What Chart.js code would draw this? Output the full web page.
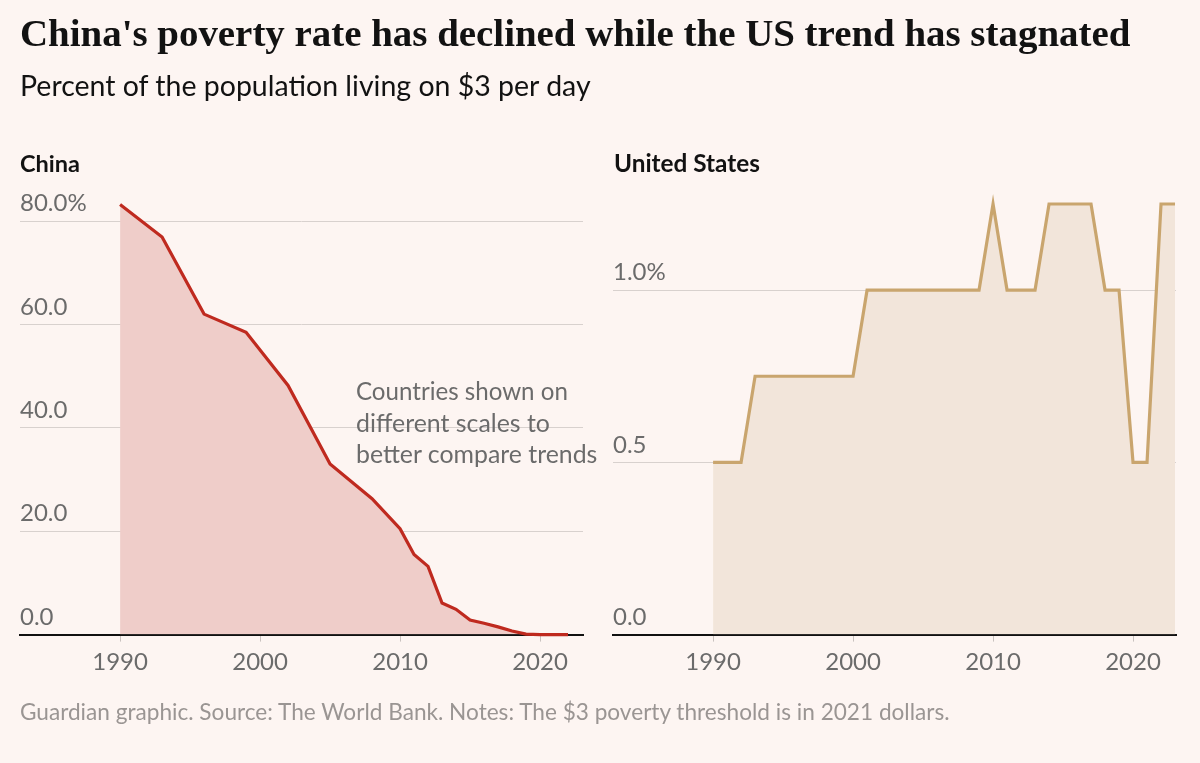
<!DOCTYPE html>
<html><head><meta charset="utf-8">
<script src="https://cdn.jsdelivr.net/npm/chart.js@4.4.1/dist/chart.umd.min.js"></script>
<style>
html,body{margin:0;padding:0;background:#fdf5f2;width:1200px;height:763px;overflow:hidden;}
body{position:relative;}
.t{position:absolute;white-space:nowrap;margin:0;}
canvas{position:absolute;top:0;}
</style></head>
<body>
<canvas id="cn" width="600" height="763" style="left:0;width:600px;height:763px"></canvas>
<canvas id="us" width="600" height="763" style="left:600px;width:600px;height:763px"></canvas>
<div class="t" id="title">China's poverty rate has declined while the US trend has stagnated</div>
<div class="t" id="sub">Percent of the population living on $3 per day</div>
<div class="t" id="lcn">China</div>
<div class="t" id="lus">United States</div>
<div class="t" id="a1">Countries shown on</div>
<div class="t" id="a2">different scales to</div>
<div class="t" id="a3">better compare trends</div>
<div class="t" id="foot">Guardian graphic. Source: The World Bank. Notes: The $3 poverty threshold is in 2021 dollars.</div>
<script>
// ---- data ----
const chinaYears = [1990,1993,1996,1999,2002,2005,2008,2010,2011,2012,2013,2014,2015,2016,2017,2018,2019,2020,2021,2022];
const chinaValues = [83.2,76.9,62.0,58.5,48.2,33.0,26.3,20.5,15.5,13.2,6.1,4.9,2.8,2.2,1.5,0.7,0.1,0,0,0];
const usYears = [1990,1991,1992,1993,1994,1995,1996,1997,1998,1999,2000,2001,2002,2003,2004,2005,2006,2007,2008,2009,2010,2011,2012,2013,2014,2015,2016,2017,2018,2019,2020,2021,2022,2023];
const usValues = [0.5,0.5,0.5,0.75,0.75,0.75,0.75,0.75,0.75,0.75,0.75,1.0,1.0,1.0,1.0,1.0,1.0,1.0,1.0,1.0,1.25,1.0,1.0,1.0,1.25,1.25,1.25,1.25,1.0,1.0,0.5,0.5,1.25,1.25];
const xTicks = [1990,2000,2010,2020];
const chinaYTicks = [0,20,40,60,80];
const chinaYLabels = ["0.0","20.0","40.0","60.0","80.0%"];
const usYTicks = [0,0.5,1.0];
const usYLabels = ["0.0","0.5","1.0%"];

// ---- text placement ----
const mc = document.createElement('canvas').getContext('2d');
function place(id, x, baseline, targetW, family, weight, color){
  const el = document.getElementById(id);
  mc.font = weight+' 100px '+family;
  const w = mc.measureText(el.textContent).width;
  const size = 100*targetW/w;
  mc.font = weight+' '+size+'px '+family;
  const m = mc.measureText(el.textContent);
  const asc = m.fontBoundingBoxAscent, desc = m.fontBoundingBoxDescent;
  el.style.font = weight+' '+size+'px '+family;
  el.style.lineHeight = size+'px';
  el.style.color = color;
  el.style.left = x+'px';
  el.style.top = (baseline - size/2 - (asc-desc)/2)+'px';
}
place('title',20,46.7,1111,'"Liberation Serif", serif','700','#121212');
place('sub',20,96.7,572,'Lato, sans-serif','400','#121212');
place('lcn',20,172.7,60,'Lato, sans-serif','700','#121212');
place('lus',614,172.7,146,'Lato, sans-serif','700','#121212');
place('a1',356,400.7,212,'Lato, sans-serif','400','#6b6b6b');
place('a2',356,432.3,194,'Lato, sans-serif','400','#6b6b6b');
place('a3',356,463.3,242,'Lato, sans-serif','400','#6b6b6b');
place('foot',20,721,932,'Lato, sans-serif','400','#9a9593');

// ---- charts ----
function makeChart(id, years, values, yMax, yTicks, yLabels, lineColor, fillColor, padL, padR){
  const pts = years.map((y,i)=>({x:y, y:values[i]}));
  return new Chart(document.getElementById(id), {
    type:'line',
    data:{datasets:[{data:pts, borderColor:lineColor, backgroundColor:fillColor, fill:'origin',
      borderWidth:3.2, pointRadius:0, tension:0, clip:false}]},
    options:{
      responsive:false, animation:false, events:[],
      layout:{padding:{left:padL,right:padR,top:204,bottom:80.6}},
      plugins:{legend:{display:false},tooltip:{enabled:false}},
      scales:{
        x:{type:'linear', min:1982.85, max:2023.07,
          afterBuildTicks:s=>{s.ticks = xTicks.map(v=>({value:v}));},
          grid:{drawOnChartArea:false, drawTicks:true, tickLength:7, color:'#c9c2bf', lineWidth:1},
          border:{display:true, color:'#111111', width:2},
          ticks:{padding:6, color:'#6b6b6b', font:{family:'Lato', size:24}, maxRotation:0, autoSkip:false,
            callback:v=>String(v)}},
        y:{type:'linear', min:0, max:yMax,
          afterBuildTicks:s=>{s.ticks = yTicks.map(v=>({value:v}));},
          grid:{drawTicks:false, lineWidth:1, color:c=>(c.tick && c.tick.value===0)?'rgba(0,0,0,0)':'#d8d1ce'},
          border:{display:false},
          ticks:{mirror:true, padding:0, labelOffset:-17.5, color:'#6b6b6b', font:{family:'Lato', size:24}, autoSkip:false,
            callback:v=>yLabels[yTicks.indexOf(v)]}}
      }
    }
  });
}
makeChart('cn', chinaYears, chinaValues, 83.3, chinaYTicks, chinaYLabels, '#bf2a1f', '#efcdc9', 20, 17);
makeChart('us', usYears, usValues, 1.25, usYTicks, usYLabels, '#c9a56e', '#f2e5da', 13, 24);
</script>
</body></html>
